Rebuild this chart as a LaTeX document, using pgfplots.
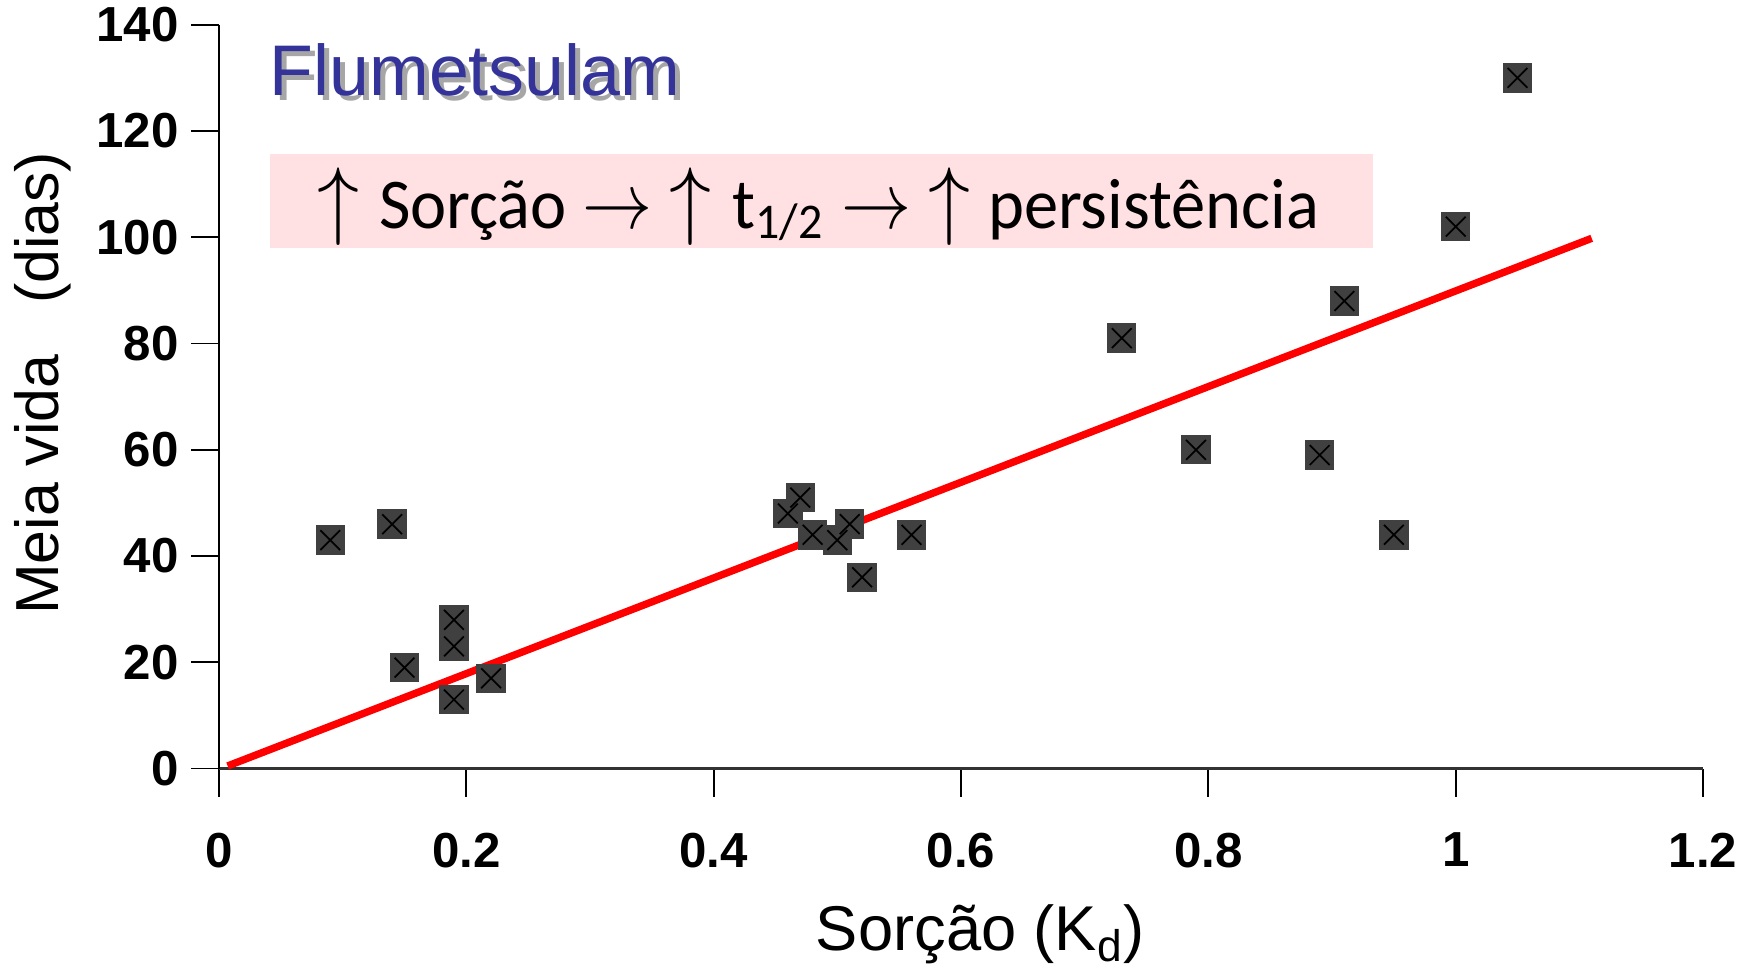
\documentclass[border=0pt]{standalone}
\usepackage{fontspec}
\setmainfont{Liberation Sans}
\newfontfamily\boxfont{Carlito}
\usepackage{pgfplots}
\usepackage{pgfplotstable}
\pgfplotsset{compat=1.18}
\definecolor{titleblue}{RGB}{51,51,153}
\definecolor{boxpink}{RGB}{255,224,227}
\definecolor{markgray}{RGB}{64,64,64}
\newcommand{\up}{\scalebox{1.2}{$\uparrow$}}
\newcommand{\ra}{\scalebox{1.0}[1.1]{$\rightarrow$}}

\pgfplotstableread{
x y
0.09 43
0.14 46
0.15 19
0.19 28
0.19 23
0.19 13
0.22 17
0.46 48
0.47 51
0.48 44
0.50 43
0.51 46
0.52 36
0.56 44
0.73 81
0.79 60
0.89 59
0.91 88
0.95 44
1.00 102
1.05 130
}\kddata

\begin{document}
\begin{tikzpicture}
\path[use as bounding box] (-2.19cm,-2.014cm) rectangle (15.43cm,7.686cm);
\begin{axis}[
  scale only axis, width=14.84cm, height=7.439cm,
  xmin=0, xmax=1.2, ymin=0, ymax=140,
  axis x line=bottom, axis y line=left,
  axis line style={-, black, line width=0.5pt},
  x axis line style={line width=1pt, black!80},
  xtick={0,0.2,0.4,0.6,0.8,1,1.2},
  xticklabels={0,0.2,0.4,0.6,0.8,1,1.2},
  ytick={0,20,40,60,80,100,120,140},
  yticklabels={0,20,40,60,80,100,120,140},
  tick align=outside, major tick length=2.8mm,
  tick style={black, line width=0.5pt},
  tick label style={font=\fontsize{14}{16}\selectfont\bfseries},
  xticklabel style={yshift=-2.4mm},
  xlabel={Sorção (K\textsubscript{d})},
  xlabel style={at={(axis description cs:0.513,-0.2439)}, anchor=base, font=\fontsize{18}{22}\selectfont},
  ylabel={Meia vida\ \ \ (dias)},
  ylabel style={at={(axis description cs:-0.1186,0.518)}, anchor=center, font=\fontsize{17.3}{21}\selectfont},
  clip=false,
]
\fill[boxpink] (axis description cs:0.0344,0.6998) rectangle (axis description cs:0.7776,0.8262);
\node[anchor=base, inner sep=0pt, font=\boxfont\fontsize{20.3}{24}\selectfont] at (axis description cs:0.404,0.7267)
  {\scalebox{0.96}[1]{\up\hspace{2mm}Sorção\hspace{1.6mm}\ra\hspace{1.8mm}\up\hspace{2.2mm}t\textsubscript{1/2}\hspace{1.8mm}\ra\hspace{1.8mm}\up\hspace{1.8mm}persistência}};
\node[anchor=base west, inner sep=0pt, font=\fontsize{20.4}{24}\selectfont, text=black!35, xshift=0.5mm, yshift=-0.5mm] at (axis description cs:0.0337,0.9048) {Flumetsulam};
\node[anchor=base west, inner sep=0pt, font=\fontsize{20.4}{24}\selectfont, text=titleblue] at (axis description cs:0.0337,0.9048) {Flumetsulam};
\addplot[only marks, mark=square*, mark size=1.4mm, mark options={fill=markgray, draw=markgray}] table {\kddata};
\addplot[only marks, mark=x, mark size=1.4mm, mark options={black, line width=0.5pt}] table {\kddata};
\addplot[red, line width=2.1pt] coordinates {(0.007,0.5) (1.11,99.8)};
\end{axis}
\end{tikzpicture}
\end{document}
